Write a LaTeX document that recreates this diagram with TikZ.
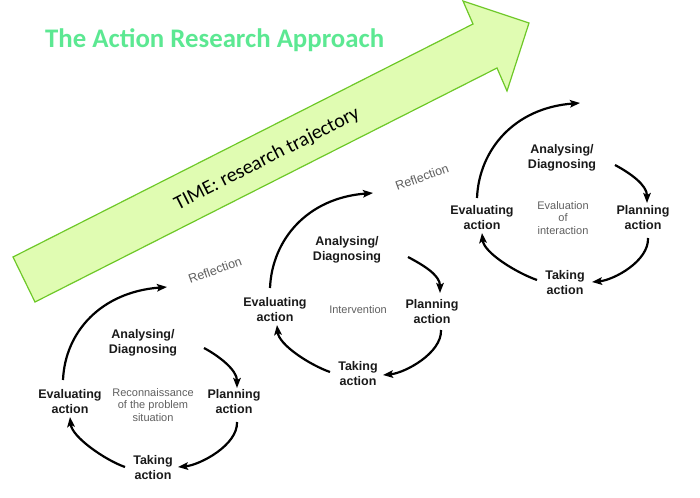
\documentclass[tikz,border=0pt]{standalone}
\usepackage{fontspec}
\setmainfont{Liberation Sans}
\newfontfamily\calibri{Carlito}
\usetikzlibrary{arrows.meta}
\definecolor{arrowfill}{RGB}{224,252,178}
\definecolor{arrowline}{RGB}{110,200,40}
\definecolor{titlegreen}{RGB}{92,232,146}
\definecolor{notegray}{RGB}{95,95,95}
\begin{document}
\begin{tikzpicture}[x=1pt,y=-1pt,
  lbl/.style={font=\bfseries\fontsize{12.5}{15}\selectfont, align=center, text=black!90, inner sep=0pt},
  note/.style={font=\fontsize{11}{12.7}\selectfont, align=center, text=notegray, inner sep=0pt},
  refl/.style={font=\fontsize{12.5}{15}\selectfont, text=notegray, rotate=20, inner sep=0pt},
  cycarrow/.style={line width=2.2pt, -{Stealth[length=10pt,width=7.5pt,inset=2pt]}}]
\useasboundingbox (0,0) rectangle (700,497);
% big time arrow
\draw[arrowline, fill=arrowfill, line width=1.2pt, line join=miter]
  (13,257) -- (473,24) -- (463,1) -- (529,23) -- (507,91) -- (497,68) -- (35,302) -- cycle;
\node[font=\calibri\fontsize{20}{24}\selectfont, rotate=26.9, inner sep=0pt] (time) at (267,159) {TIME: research trajectory};
\node[font=\calibri\bfseries\fontsize{26.8}{30}\selectfont, text=titlegreen, anchor=base west, inner sep=0pt] (title) at (45,48) {The Action Research Approach};
% cycle 1
\begin{scope}[shift={(143,343)}]
  \node[lbl] (a1) at (0,0) {Analysing/\\Diagnosing};
  \node[lbl] (e1) at (-73,59) {Evaluating\\action};
  \node[lbl] (p1) at (91,59) {Planning\\action};
  \node[lbl] (t1) at (10,125) {Taking\\action};
  \node[note] (c1) at (10,62) {Reconnaissance\\of the problem\\situation};
  \node[refl] (r1) at (72,-73) {Reflection};
  \coordinate (b1s) at (-80,37); \coordinate (b1e) at (24,-56);
  \coordinate (ap1s) at (61,5); \coordinate (ap1e) at (94,45);
  \coordinate (pt1s) at (94,79); \coordinate (pt1e) at (35,124);
  \coordinate (te1s) at (-18,124); \coordinate (te1e) at (-73,74);
  \draw[cycarrow] (b1s) .. controls (-78,-11) and (-42,-51) .. (b1e);
  \draw[cycarrow] (ap1s) .. controls (76,13) and (94,27) .. (ap1e);
  \draw[cycarrow] (pt1s) .. controls (95,102) and (57,122) .. (pt1e);
  \draw[cycarrow] (te1s) .. controls (-38,117) and (-71,94) .. (te1e);
\end{scope}
% cycle 2
\begin{scope}[shift={(347,250)}]
  \node[lbl] (a2) at (0,0) {Analysing/\\Diagnosing};
  \node[lbl] (e2) at (-72,60) {Evaluating\\action};
  \node[lbl] (p2) at (85,62) {Planning\\action};
  \node[lbl] (t2) at (11,124) {Taking\\action};
  \node[note] (c2) at (11,60) {Intervention};
  \node[refl] (r2) at (75,-73) {Reflection};
  \coordinate (b2s) at (-77,38); \coordinate (b2e) at (26,-57);
  \coordinate (ap2s) at (61,7); \coordinate (ap2e) at (93,43);
  \coordinate (pt2s) at (94,80); \coordinate (pt2e) at (36,125);
  \coordinate (te2s) at (-17,122); \coordinate (te2e) at (-70,75);
  \draw[cycarrow] (b2s) .. controls (-75,-10) and (-40,-52) .. (b2e);
  \draw[cycarrow] (ap2s) .. controls (76,15) and (93,25) .. (ap2e);
  \draw[cycarrow] (pt2s) .. controls (95,103) and (58,123) .. (pt2e);
  \draw[cycarrow] (te2s) .. controls (-37,115) and (-68,95) .. (te2e);
\end{scope}
% cycle 3
\begin{scope}[shift={(562,158)}]
  \node[lbl] (a3) at (0,0) {Analysing/\\Diagnosing};
  \node[lbl] (e3) at (-80,60) {Evaluating\\action};
  \node[lbl] (p3) at (81,60) {Planning\\action};
  \node[lbl] (t3) at (3,125) {Taking\\action};
  \node[note] (c3) at (1,60) {Evaluation\\of\\interaction};
  \coordinate (b3s) at (-85,40); \coordinate (b3e) at (18,-55);
  \coordinate (ap3s) at (53,7); \coordinate (ap3e) at (85,45);
  \coordinate (pt3s) at (86,80); \coordinate (pt3e) at (30,124);
  \coordinate (te3s) at (-25,122); \coordinate (te3e) at (-80,75);
  \draw[cycarrow] (b3s) .. controls (-83,-8) and (-48,-50) .. (b3e);
  \draw[cycarrow] (ap3s) .. controls (68,15) and (85,27) .. (ap3e);
  \draw[cycarrow] (pt3s) .. controls (87,103) and (52,122) .. (pt3e);
  \draw[cycarrow] (te3s) .. controls (-45,115) and (-78,95) .. (te3e);
\end{scope}
\end{tikzpicture}
\end{document}
